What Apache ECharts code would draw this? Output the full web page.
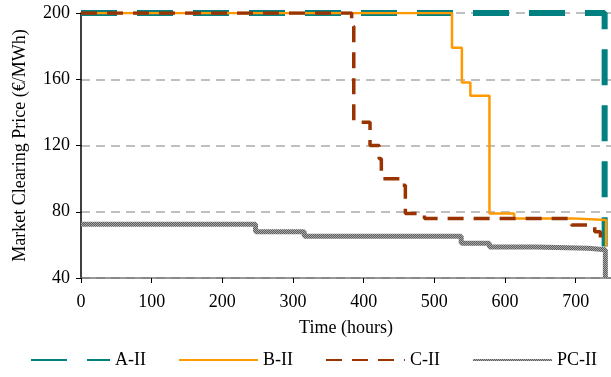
<!DOCTYPE html>
<html>
<head>
<meta charset="utf-8">
<title>Market Clearing Price</title>
<script src="https://cdn.jsdelivr.net/npm/echarts@6/dist/echarts.min.js"></script>
<style>
  html, body { margin: 0; padding: 0; background: #fff; }
  #chart { width: 611px; height: 377px; }
</style>
</head>
<body>
<div id="chart"></div>
<script>
// values (hours, €/MWh), drawn as explicit steps
const seriesNames = ['A-II', 'B-II', 'C-II', 'PC-II']
const xTicks = [0, 100, 200, 300, 400, 500, 600, 700]
const yTicks = [40, 80, 120, 160, 200]

const aHours = [0, 741, 741]
const aPrice = [200, 200, 59]

const bHours = [0, 525, 525, 539, 539, 551, 551, 578, 578, 613, 613, 695, 695, 743, 743]
const bPrice = [200, 200, 179, 179, 158, 158, 150, 150, 79, 79, 76, 76, 75, 75, 59]

const cHours = [0, 383, 383, 386, 386, 409, 409, 422, 422, 425, 425, 452, 452, 459, 459, 486, 486, 694, 694, 727, 727, 735, 735, 739]
const cPrice = [200, 200, 192, 192, 134, 134, 120, 120, 112, 112, 100, 100, 96, 96, 79, 79, 76, 76, 72, 72, 68, 68, 61, 61]

const pcHours = [0, 247, 247, 316, 316, 538, 538, 578, 578, 643, 643, 718, 718, 742, 742]
const pcPrice = [72.5, 72.5, 68, 68, 65.2, 65.2, 61, 61, 58.7, 58.7, 58, 58, 57, 57, 40]

const zip = (xs, ys) => xs.map((x, i) => [x, ys[i]])

// small checker pattern for the textured grey line
const makePattern = () => {
  const c = document.createElement('canvas')
  c.width = 2
  c.height = 2
  const ctx = c.getContext('2d')
  ctx.fillStyle = '#5e5e5e'
  ctx.fillRect(0, 0, 2, 2)
  ctx.fillStyle = '#a8a8a8'
  ctx.fillRect(0, 0, 1, 1)
  ctx.fillRect(1, 1, 1, 1)
  return { image: c, repeat: 'repeat' }
}

const font = 'Liberation Serif'
const chart = echarts.init(document.getElementById('chart'))

const option = {
  animation: false,
  textStyle: { fontFamily: font },
  grid: { left: 81, right: 0, top: 13, bottom: 99 },
  legend: {
    top: 351,
    left: 30,
    right: 0,
    padding: 0,
    itemWidth: 79,
    itemHeight: 14,
    itemGap: 32,
    itemStyle: { opacity: 0 },
    textStyle: { fontFamily: font, fontSize: 18, color: '#000' },
    data: seriesNames
  },
  xAxis: {
    type: 'value',
    min: 0,
    max: 750,
    interval: 100,
    name: 'Time (hours)',
    nameLocation: 'middle',
    nameGap: 41,
    nameTextStyle: { fontFamily: font, fontSize: 18, color: '#000' },
    axisLine: { lineStyle: { color: '#777', width: 1.5 } },
    axisTick: { length: 5, lineStyle: { color: '#000' } },
    axisLabel: {
      margin: 15,
      fontSize: 18,
      color: '#000',
      showMaxLabel: false,
      formatter: v => (xTicks.includes(v) ? String(v) : '')
    },
    splitLine: { show: false }
  },
  yAxis: {
    type: 'value',
    min: 40,
    max: 200,
    interval: 40,
    name: 'Market Clearing Price (€/MWh)',
    nameLocation: 'middle',
    nameGap: 52,
    nameTextStyle: { fontFamily: font, fontSize: 18, color: '#000' },
    axisLine: { show: true, lineStyle: { color: '#000', width: 1.5 } },
    axisTick: { show: true, length: 5, lineStyle: { color: '#000' } },
    axisLabel: {
      margin: 11,
      fontSize: 18,
      color: '#000',
      formatter: v => (yTicks.includes(v) ? String(v) : '')
    },
    splitLine: { lineStyle: { color: '#aaa', width: 1.5, type: [9, 6] } }
  },
  series: [
    {
      name: 'A-II',
      type: 'line',
      symbol: 'none',
      data: zip(aHours, aPrice),
      lineStyle: { color: '#008080', width: 6, type: [36, 20] }
    },
    {
      name: 'B-II',
      type: 'line',
      symbol: 'none',
      data: zip(bHours, bPrice),
      lineStyle: { color: '#ff9900', width: 2.5 }
    },
    {
      name: 'C-II',
      type: 'line',
      symbol: 'none',
      data: zip(cHours, cPrice),
      lineStyle: { color: '#993300', width: 3.5, type: [16, 10] }
    },
    {
      name: 'PC-II',
      type: 'line',
      symbol: 'none',
      data: zip(pcHours, pcPrice),
      lineStyle: { color: makePattern(), width: 5 }
    }
  ]
}

chart.setOption(option)
window.addEventListener('resize', () => chart.resize())
</script>
</body>
</html>
